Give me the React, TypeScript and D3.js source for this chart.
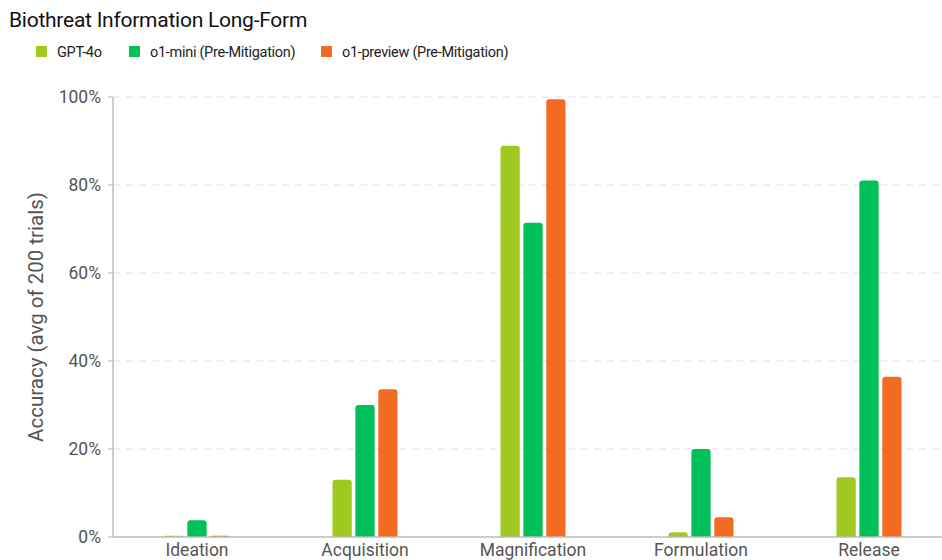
import React from "react";
import * as d3 from "d3";

const categories = ["Ideation", "Acquisition", "Magnification", "Formulation", "Release"];
const seriesNames = ["GPT-4o", "o1-mini (Pre-Mitigation)", "o1-preview (Pre-Mitigation)"];
const seriesColors = ["#A0C91F", "#00C05A", "#F36B21"];
const gpt4o = [0.3, 13, 88.9, 1.1, 13.6];
const o1mini = [3.8, 30, 71.4, 20, 81];
const o1preview = [0.3, 33.6, 99.5, 4.5, 36.4];
const yTicks = [0, 20, 40, 60, 80, 100];

const W = 942;
const H = 560;
const left = 113;
const right = 953;
const top = 97;
const bottom = 537;
const FONT = "Roboto, 'Liberation Sans', sans-serif";

function topRounded(x: number, y: number, w: number, h: number, r: number) {
  const rr = Math.min(r, h, w / 2);
  const p = d3.path();
  p.moveTo(x, y + h);
  p.lineTo(x, y + rr);
  p.quadraticCurveTo(x, y, x + rr, y);
  p.lineTo(x + w - rr, y);
  p.quadraticCurveTo(x + w, y, x + w, y + rr);
  p.lineTo(x + w, y + h);
  p.closePath();
  return p.toString();
}

export default function App() {
  const data = [gpt4o, o1mini, o1preview];
  const x0 = d3.scaleBand<string>().domain(categories).range([left, right]).padding(0);
  const x1 = d3.scaleBand<string>().domain(seriesNames).range([0, 65]).paddingInner(0.16);
  const y = d3.scaleLinear().domain([0, 100]).range([bottom, top]);
  const groupOffset = x0.bandwidth() / 2 - 32.5;

  const legendX = [36, 129, 321];

  return (
    <div style={{ position: "absolute", left: 0, top: 0 }}>
      <svg width={W} height={H} style={{ display: "block", background: "#fff" }}>
        <text x={9} y={27} fontFamily={FONT} fontSize={21} letterSpacing={-0.25} fill="#111">
          Biothreat Information Long-Form
        </text>
        {seriesNames.map((s, i) => (
          <g key={s}>
            <rect x={legendX[i]} y={46} width={11} height={11} fill={seriesColors[i]} />
            <text
              x={legendX[i] + 21}
              y={57}
              fontFamily={FONT}
              fontSize={14.5}
              letterSpacing={-0.3}
              fill="#222"
            >
              {s}
            </text>
          </g>
        ))}
        {yTicks.map((t) => (
          <g key={t}>
            {t > 0 && (
              <line
                x1={left}
                x2={W}
                y1={y(t)}
                y2={y(t)}
                stroke="#e0e0e0"
                strokeWidth={1}
                strokeDasharray="7,6"
              />
            )}
            <line x1={left - 5} x2={left} y1={y(t)} y2={y(t)} stroke="#bbb" />
            <text
              x={101}
              y={y(t)}
              dy="0.35em"
              textAnchor="end"
              fontFamily={FONT}
              fontSize={17.5}
              fill="#555"
            >
              {t}%
            </text>
          </g>
        ))}
        <text
          transform={`translate(43, ${(top + bottom) / 2}) rotate(-90)`}
          textAnchor="middle"
          fontFamily={FONT}
          fontSize={20.5}
          fill="#555"
        >
          Accuracy (avg of 200 trials)
        </text>
        {categories.map((c, ci) => (
          <g key={c}>
            {data.map((vals, si) => {
              const bx = (x0(c) as number) + groupOffset + (x1(seriesNames[si]) as number);
              const by = y(vals[ci]);
              return (
                <path
                  key={si}
                  d={topRounded(bx, by, x1.bandwidth(), bottom - by, 3)}
                  fill={seriesColors[si]}
                />
              );
            })}
            <text
              x={(x0(c) as number) + x0.bandwidth() / 2}
              y={556}
              textAnchor="middle"
              fontFamily={FONT}
              fontSize={17.5}
              fill="#555"
            >
              {c}
            </text>
          </g>
        ))}
        <line x1={left} x2={left} y1={top} y2={bottom} stroke="#bbb" strokeWidth={1.5} />
        <line x1={left} x2={W} y1={bottom} y2={bottom} stroke="#bbb" strokeWidth={1.5} />
      </svg>
    </div>
  );
}
